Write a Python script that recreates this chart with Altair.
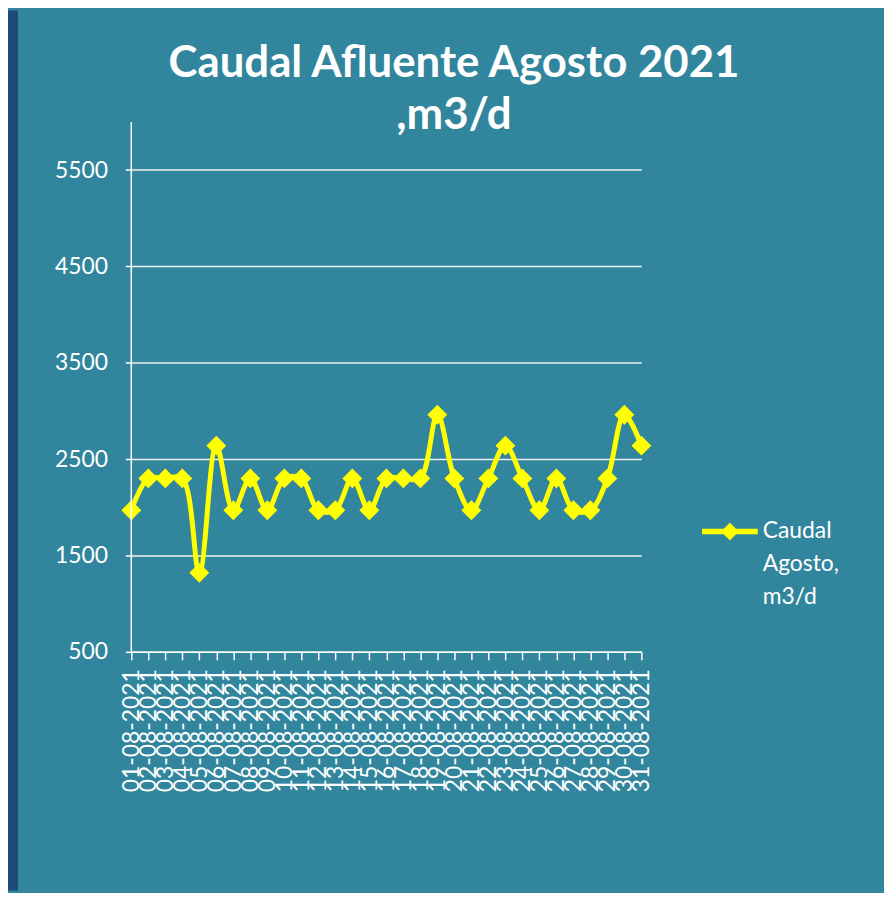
import altair as alt
import pandas as pd

fechas = [
    "01-08-2021", "02-08-2021", "03-08-2021", "04-08-2021", "05-08-2021",
    "06-08-2021", "07-08-2021", "08-08-2021", "09-08-2021", "10-08-2021",
    "11-08-2021", "12-08-2021", "13-08-2021", "14-08-2021", "15-08-2021",
    "16-08-2021", "17-08-2021", "18-08-2021", "19-08-2021", "20-08-2021",
    "21-08-2021", "22-08-2021", "23-08-2021", "24-08-2021", "25-08-2021",
    "26-08-2021", "27-08-2021", "28-08-2021", "29-08-2021", "30-08-2021",
    "31-08-2021",
]
caudal = [
    1970, 2300, 2300, 2300, 1320, 2640, 1970, 2300, 1970, 2300,
    2300, 1970, 1970, 2300, 1970, 2300, 2300, 2300, 2960, 2300,
    1970, 2300, 2640, 2300, 1970, 2300, 1970, 1970, 2300, 2960,
    2640,
]
serie = "Caudal Agosto, m3/d"
y_ticks = [500, 1500, 2500, 3500, 4500, 5500]
y_axis_min = [500]
y_axis_max = [6000]
titulo = ["Caudal Afluente Agosto 2021", ",m3/d"]

TEAL = "#31859c"
DARK = "#1f497d"
YELLOW = "#ffff00"
FONT = "Lato"

# layout: the value axis (500..6000) spans 533 px, the view is taller (645 px)
# so that the free band above the axis holds the title
AXIS_PX = 533
VIEW_H = 645
y_top = y_axis_min[0] + VIEW_H * (y_axis_max[0] - y_axis_min[0]) / AXIS_PX

df = pd.DataFrame({"fecha": fechas, "caudal": caudal, "serie": [serie] * len(fechas)})
df_axis = pd.DataFrame({"fecha": [fechas[0]], "y0": y_axis_min, "y1": y_axis_max})

x_scale = alt.Scale(type="point", padding=0, domain=fechas)
y_scale = alt.Scale(domain=[y_axis_min[0], y_top], nice=False, zero=False)

x_axis = alt.Axis(
    title=None,
    labelAngle=270, labelFont=FONT, labelFontSize=23, labelColor="white",
    labelPadding=9, labelOverlap=False, labelLimit=300,
    tickColor="white", tickSize=8, tickWidth=1.5,
    domainColor="white", domainWidth=1.5, grid=False,
)
y_axis = alt.Axis(
    values=y_ticks, format="d", labelFont=FONT, labelFontSize=23, labelColor="white",
    labelPadding=18, tickColor="white", tickSize=6, tickWidth=1.5,
    domain=False,
    grid=True, gridColor="#f0f0f0", gridWidth=1.5,
    title=" ", titleX=-114, titleY=0, titleAlign="left",
    titleBaseline="top", titleAngle=0, titleColor=TEAL, titleFontSize=10,
)

base = alt.Chart(df).encode(
    x=alt.X("fecha:N", sort=fechas, scale=x_scale, axis=x_axis),
    y=alt.Y("caudal:Q", scale=y_scale, axis=y_axis),
)

line = base.mark_line(color=YELLOW, strokeWidth=5, interpolate="catmull-rom")

sym_path = "M-1,-0.1L1,-0.1L1,0.1L-1,0.1Z M-0.32,0L0,-0.32L0.32,0L0,0.32Z"

points = base.mark_point(shape="diamond", filled=True, size=400, opacity=1).encode(
    color=alt.Color(
        "serie:N", scale=alt.Scale(range=[YELLOW]),
        legend=alt.Legend(
            orient="none", legendX=698, legendY=496, title=None, padding=0,
            symbolType=sym_path, symbolSize=3136, symbolStrokeWidth=0,
            symbolOpacity=1, symbolFillColor=YELLOW,
            labelFont=FONT, labelFontSize=23, labelColor="white", labelOffset=5,
            labelLimit=300, labelExpr="split(datum.label, ' ')",
        ),
    )
)

# value-axis line, from 500 to 6000 only
axis_line = alt.Chart(df_axis).mark_rule(color="white", strokeWidth=1.5).encode(
    x=alt.X("fecha:N", sort=fechas, scale=x_scale, axis=x_axis),
    y=alt.Y("y0:Q", scale=y_scale, axis=y_axis),
    y2="y1:Q",
)

main = alt.layer(line, points, axis_line).properties(
    width=513, height=VIEW_H,
    title=alt.TitleParams(
        text=titulo, font=FONT, fontSize=44, fontWeight="bold", color="white",
        anchor="middle", frame="group", dx=68, offset=-128,
        baseline="top", lineHeight=52,
    ),
)

strip = alt.Chart(pd.DataFrame({"v": [0]})).mark_point(size=0, opacity=0).encode(
    x=alt.X("v:Q", axis=None), y=alt.Y("v:Q", axis=None)
).properties(width=10, height=885, view=alt.ViewBackground(fill=DARK, strokeWidth=0))

combined = alt.hconcat(strip, main, spacing=0).properties(
    background=TEAL,
    padding={"left": 0, "top": 0, "right": 45, "bottom": 0},
)

try:
    chart = combined.configure(style={"guide-label": {"lineHeight": 33}}).configure_view(strokeWidth=0)
    chart.to_dict()
except Exception:
    chart = combined.configure_view(strokeWidth=0)

chart.save("out.html", embed_options={"renderer": "svg", "actions": False})
